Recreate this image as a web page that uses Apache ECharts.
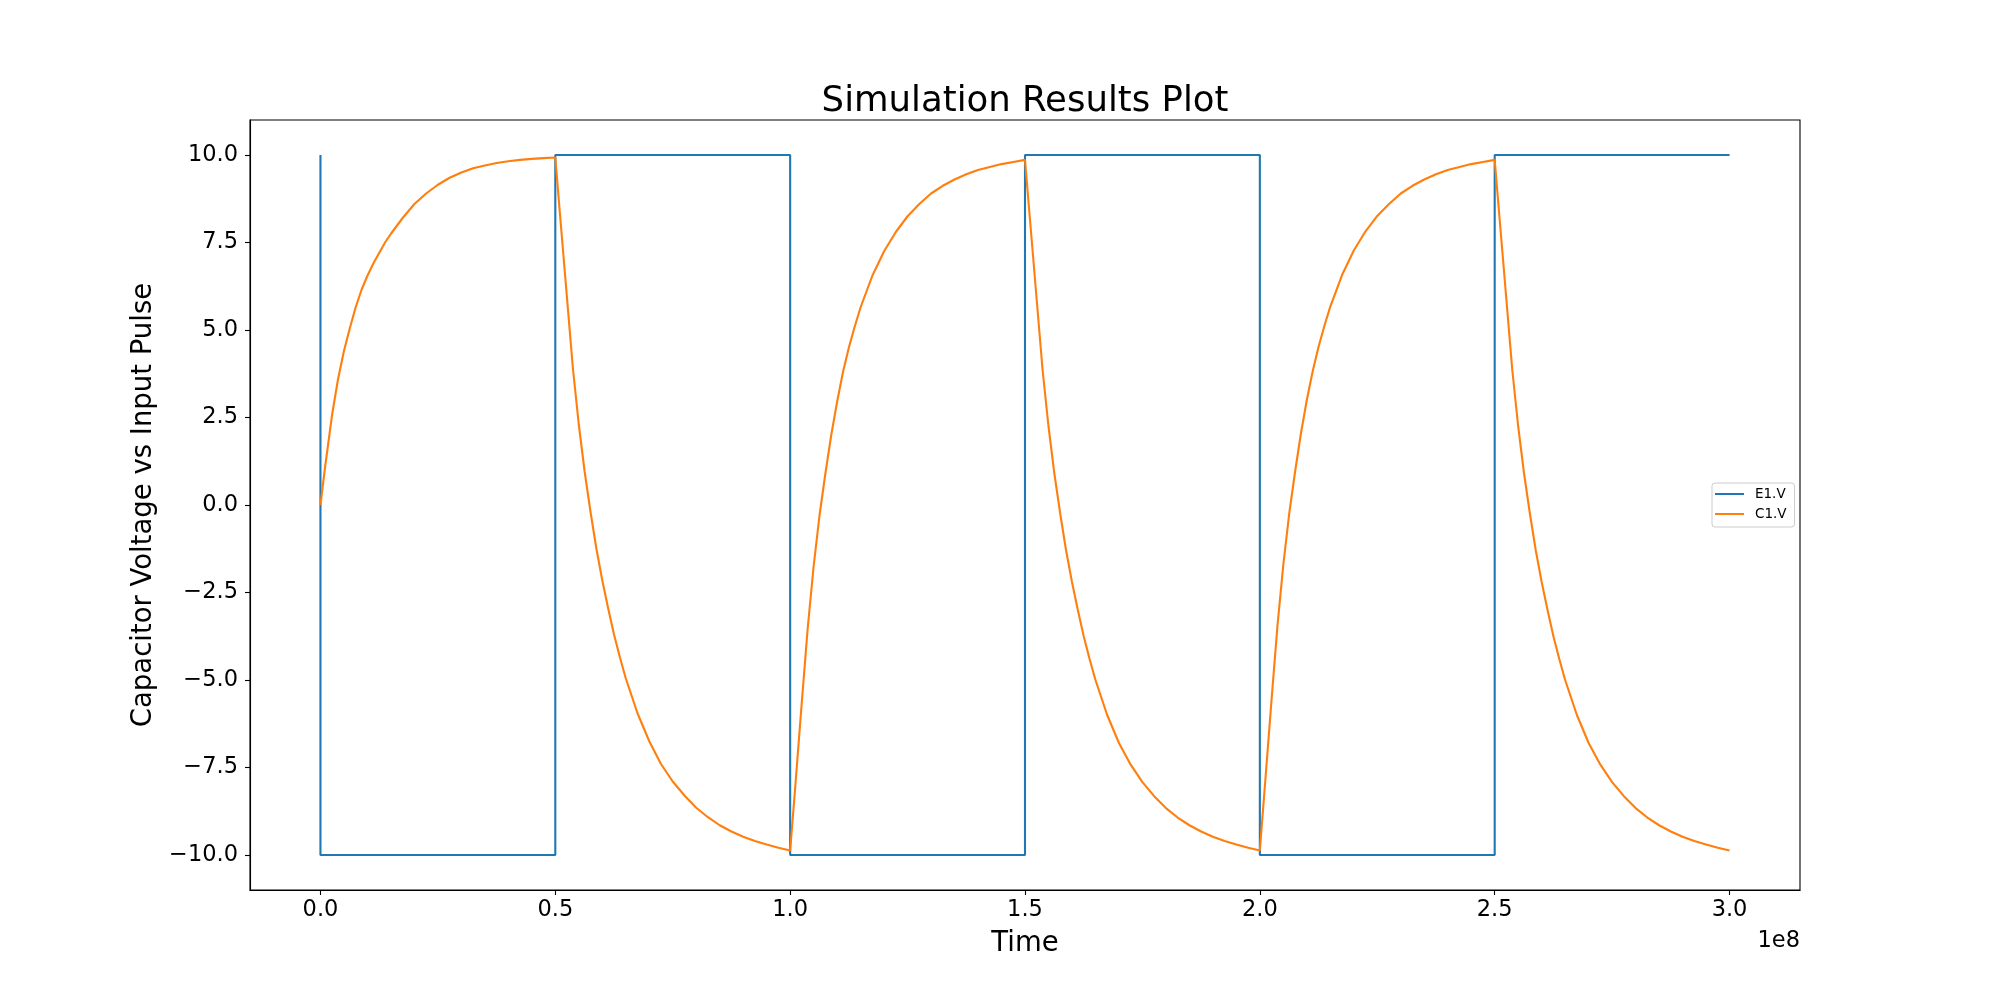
<!DOCTYPE html>
<html>
<head>
<meta charset="utf-8">
<script src="https://cdn.jsdelivr.net/npm/echarts@6/dist/echarts.min.js"></script>
<style>
html,body{margin:0;padding:0;background:#fff;}
#chart{width:2000px;height:1000px;}
</style>
</head>
<body>
<div id="chart"></div>
<script>
// ---- Data ----
const xTicks = [0, 5e7, 1e8, 1.5e8, 2e8, 2.5e8, 3e8];
const yTicks = [-10, -7.5, -5, -2.5, 0, 2.5, 5, 7.5, 10];

// E1.V input pulse (time in s, value in V)
const e1Time = [0, 0, 5e7, 5e7, 1e8, 1e8, 1.5e8, 1.5e8, 2e8, 2e8, 2.5e8, 2.5e8, 3e8];
const e1Volt = [10, -10, -10, 10, 10, -10, -10, 10, 10, -10, -10, 10, 10];

// C1.V capacitor voltage, read per half period (time offset from the start of each half period)
const segStart = [0, 5e7, 1e8, 1.5e8, 2e8, 2.5e8];
const tOffset = [0, 1e6, 2.5e6, 3.75e6, 5e6, 6.25e6, 7.5e6, 8.75e6, 1e7, 1.125e7, 1.25e7, 1.375e7, 1.5e7,
                 1.75e7, 2e7, 2.25e7, 2.5e7, 2.75e7, 3e7, 3.25e7, 3.5e7, 3.75e7, 4e7, 4.25e7, 4.5e7, 4.75e7, 5e7];
const c1Seg1 = [0, 1.1, 2.6, 3.6, 4.4, 5.05, 5.65, 6.15, 6.55, 6.9, 7.2, 7.5, 7.75, 8.2, 8.6, 8.9, 9.15, 9.35, 9.5, 9.62, 9.7, 9.77, 9.82, 9.86, 9.89, 9.91, 9.93];
const c1Seg2 = [9.93, 8.3, 5.9, 3.9, 2.3, 0.95, -0.2, -1.25, -2.15, -2.95, -3.7, -4.35, -4.95, -5.95, -6.75, -7.4, -7.9, -8.3, -8.65, -8.92, -9.15, -9.33, -9.48, -9.6, -9.7, -9.79, -9.87];
const c1Seg3 = [-9.87, -8.2, -5.6, -3.5, -1.75, -0.3, 0.9, 2.0, 2.95, 3.8, 4.5, 5.1, 5.65, 6.55, 7.25, 7.8, 8.25, 8.6, 8.9, 9.12, 9.3, 9.45, 9.57, 9.66, 9.74, 9.8, 9.86];
const c1Seg4 = [9.86, 8.25, 5.85, 3.85, 2.25, 0.9, -0.25, -1.3, -2.2, -3.0, -3.75, -4.4, -5.0, -6.0, -6.8, -7.42, -7.92, -8.32, -8.66, -8.93, -9.15, -9.33, -9.48, -9.6, -9.7, -9.79, -9.87];
const c1Seg5 = [-9.87, -8.15, -5.55, -3.45, -1.7, -0.25, 0.95, 2.05, 3.0, 3.82, 4.52, 5.12, 5.67, 6.57, 7.27, 7.82, 8.26, 8.6, 8.9, 9.12, 9.3, 9.45, 9.57, 9.66, 9.74, 9.8, 9.86];
const c1Seg6 = [9.86, 8.25, 5.85, 3.85, 2.25, 0.9, -0.25, -1.3, -2.2, -3.0, -3.75, -4.4, -5.0, -6.0, -6.8, -7.42, -7.92, -8.32, -8.66, -8.93, -9.15, -9.33, -9.48, -9.6, -9.7, -9.79, -9.87];

const seriesNames = ['E1.V', 'C1.V'];
// ------------------------------------------------

const e1Data = e1Time.map((t, i) => [t, e1Volt[i]]);
const c1Segs = [c1Seg1, c1Seg2, c1Seg3, c1Seg4, c1Seg5, c1Seg6];
const c1Data = [];
c1Segs.forEach((seg, s) => {
  seg.forEach((v, i) => { c1Data.push([segStart[s] + tOffset[i], v]); });
});

const FONT = 'DejaVu Sans';
const chart = echarts.init(document.getElementById('chart'), null, {renderer: 'canvas'});
chart.setOption({
  animation: false,
  backgroundColor: '#ffffff',
  textStyle: {fontFamily: FONT},
  title: {
    text: 'Simulation Results Plot',
    left: 1025, top: 84, textAlign: 'center', padding: 0,
    textStyle: {fontFamily: FONT, fontSize: 35.5, fontWeight: 'normal', color: '#000', lineHeight: 36}
  },
  legend: {
    data: seriesNames,
    orient: 'vertical',
    left: 1712, top: 483,
    icon: 'rect', itemWidth: 29, itemHeight: 2,
    itemGap: 6,
    padding: [4, 8, 6, 3],
    backgroundColor: '#ffffff',
    borderColor: '#cccccc', borderWidth: 1, borderRadius: 3,
    textStyle: {fontFamily: FONT, fontSize: 13.5, lineHeight: 14, color: '#000', padding: [0, 0, 0, 6]}
  },
  grid: {
    left: 250, right: 200, top: 120, bottom: 110,
    show: true, borderColor: '#000', borderWidth: 1.1, backgroundColor: 'transparent'
  },
  xAxis: {
    type: 'value', min: -1.5e7, max: 3.15e8,
    name: 'Time', nameLocation: 'middle', nameGap: 40,
    nameTextStyle: {fontFamily: FONT, fontSize: 27.5, color: '#000'},
    axisLine: {show: true, onZero: false, lineStyle: {color: '#000', width: 1.1}},
    axisTick: {show: true, customValues: xTicks, length: 5, lineStyle: {color: '#000', width: 1.1}},
    axisLabel: {customValues: xTicks, margin: 9, fontFamily: FONT, fontSize: 22.5, color: '#000',
      formatter: v => (v / 1e8).toFixed(1)},
    splitLine: {show: false}
  },
  yAxis: {
    type: 'value', min: -11, max: 11,
    name: 'Capacitor Voltage vs Input Pulse', nameLocation: 'middle', nameGap: 76,
    nameTextStyle: {fontFamily: FONT, fontSize: 27.5, color: '#000'},
    axisLine: {show: true, onZero: false, lineStyle: {color: '#000', width: 1.1}},
    axisTick: {show: true, customValues: yTicks, length: 5, lineStyle: {color: '#000', width: 1.1}},
    axisLabel: {customValues: yTicks, margin: 12, fontFamily: FONT, fontSize: 22.5, color: '#000',
      formatter: v => (v < 0 ? '\u2212' : '') + Math.abs(v).toFixed(1)},
    splitLine: {show: false}
  },
  graphic: [{
    type: 'text', right: 200, top: 930,
    style: {text: '1e8', font: '22.5px "DejaVu Sans"', fill: '#000', textAlign: 'right'}
  }],
  series: [
    {name: seriesNames[0], type: 'line', data: e1Data, showSymbol: false, symbol: 'none',
     lineStyle: {color: '#1f77b4', width: 2.1}, itemStyle: {color: '#1f77b4'}, clip: true},
    {name: seriesNames[1], type: 'line', data: c1Data, showSymbol: false, symbol: 'none',
     lineStyle: {color: '#ff7f0e', width: 2.1}, itemStyle: {color: '#ff7f0e'}, clip: true}
  ]
});
</script>
</body>
</html>
